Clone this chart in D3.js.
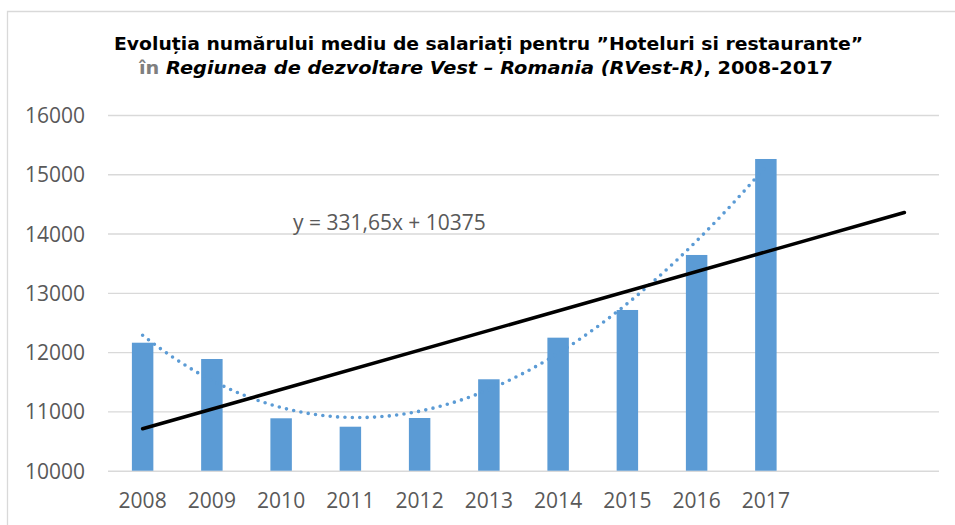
<!DOCTYPE html>
<html lang="ro">
<head>
    <meta charset="UTF-8">
    <title>Evolutia numarului mediu de salariati - Hoteluri si restaurante</title>
    <script src="https://d3js.org/d3.v7.min.js"></script>
    <style>
        body { margin: 0; background: #fff; }
        .axis text { font-family: "Open Sans", sans-serif; font-size: 21px; fill: #595959; }
    </style>
</head>
<body>
    <div id="chart"></div>
    <script>
        // values
        const years = ["2008", "2009", "2010", "2011", "2012", "2013", "2014", "2015", "2016", "2017"];
        const employees = [12159, 11884, 10884, 10742, 10889, 11542, 12244, 12711, 13639, 15258];
        const yTicks = [10000, 11000, 12000, 13000, 14000, 15000, 16000];
        const extraSlots = ["f1", "f2"];      // empty categories used by the trendline forecast
        const trendSlope = 331.65;            // from "y = 331,65x + 10375"
        const trendIntercept = 10375;
        const polyOrder = 3;

        const width = 955, height = 525;
        const margin = { top: 115, right: 16, bottom: 54.3, left: 108 };

        const svg = d3.select("#chart")
            .append("svg")
            .attr("width", width)
            .attr("height", height);

        // chart frame (only left + top edge visible)
        svg.append("path")
            .attr("d", `M7.5,${height} V11.5 H${width}`)
            .attr("fill", "none")
            .attr("stroke", "#d9d9d9")
            .attr("stroke-width", 1.3);

        const x = d3.scaleBand()
            .domain(years.concat(extraSlots))
            .range([margin.left, width - margin.right])
            .paddingInner(0.69)
            .paddingOuter(0.345);

        const y = d3.scaleLinear()
            .domain([10000, 16000])
            .range([height - margin.bottom, margin.top]);

        // center of category i (1-based, like Excel)
        const cx = i => x(x.domain()[i - 1]) + x.bandwidth() / 2;

        // y axis + gridlines
        const yAxis = svg.append("g")
            .attr("class", "axis")
            .attr("transform", `translate(${margin.left},0)`)
            .call(d3.axisLeft(y).tickValues(yTicks).tickFormat(d3.format("d"))
                .tickSize(-(width - margin.right - margin.left)).tickPadding(23));
        yAxis.select(".domain").remove();
        yAxis.selectAll(".tick line").attr("stroke", "#d9d9d9").attr("stroke-width", 1.4);
        yAxis.selectAll(".tick text").attr("dy", "0.36em");

        // x axis labels
        const xAxis = svg.append("g")
            .attr("class", "axis")
            .attr("transform", `translate(0,${y(10000)})`)
            .call(d3.axisBottom(x).tickValues(years).tickSize(0).tickPadding(0));
        xAxis.select(".domain").remove();
        xAxis.selectAll(".tick text").attr("y", 37).attr("dy", 0);

        // bars
        svg.selectAll(".bar")
            .data(employees)
            .join("rect")
            .attr("class", "bar")
            .attr("x", (d, i) => x(years[i]))
            .attr("y", d => y(d))
            .attr("width", x.bandwidth())
            .attr("height", d => y(10000) - y(d))
            .attr("fill", "#5b9bd5");

        // polynomial trendline (least squares, like Excel)
        function polyFit(xs, ys, order) {
            const n = order + 1;
            const A = d3.range(n).map(r => d3.range(n + 1).map(() => 0));
            xs.forEach((xv, k) => {
                for (let r = 0; r < n; r++) {
                    for (let c = 0; c < n; c++) A[r][c] += Math.pow(xv, r + c);
                    A[r][n] += ys[k] * Math.pow(xv, r);
                }
            });
            for (let p = 0; p < n; p++) {
                for (let r = p + 1; r < n; r++) {
                    const f = A[r][p] / A[p][p];
                    for (let c = p; c <= n; c++) A[r][c] -= f * A[p][c];
                }
            }
            const coef = new Array(n).fill(0);
            for (let r = n - 1; r >= 0; r--) {
                let s = A[r][n];
                for (let c = r + 1; c < n; c++) s -= A[r][c] * coef[c];
                coef[r] = s / A[r][r];
            }
            return xv => coef.reduce((acc, cf, k) => acc + cf * Math.pow(xv, k), 0);
        }

        const xIdx = employees.map((d, i) => i + 1);
        const poly = polyFit(xIdx, employees, polyOrder);
        const polyPts = d3.range(1, employees.length + 0.001, 0.05);

        const lineX = d3.scaleLinear().domain([1, 2]).range([cx(1), cx(2)]);

        svg.append("path")
            .datum(polyPts)
            .attr("d", d3.line().x(d => lineX(d)).y(d => y(poly(d))))
            .attr("fill", "none")
            .attr("stroke", "#5b9bd5")
            .attr("stroke-width", 3.6)
            .attr("stroke-linecap", "round")
            .attr("stroke-dasharray", "0 7.4");

        // linear trendline, forecast forward 2 periods
        const trendX = [1, years.length + extraSlots.length];
        svg.append("path")
            .datum(trendX)
            .attr("d", d3.line().x(d => lineX(d)).y(d => y(trendSlope * d + trendIntercept)))
            .attr("fill", "none")
            .attr("stroke", "#000")
            .attr("stroke-width", 3.5)
            .attr("stroke-linecap", "round");

        svg.append("text")
            .attr("x", 293)
            .attr("y", 230)
            .attr("font-family", "Open Sans, sans-serif")
            .attr("font-size", 21)
            .attr("fill", "#595959")
            .text("y = 331,65x + 10375");

        // title
        const title = svg.append("g")
            .attr("font-family", "DejaVu Sans, sans-serif")
            .attr("font-size", 18.5)
            .attr("font-weight", "bold")
            .attr("fill", "#000");

        title.append("text")
            .attr("x", 114)
            .attr("y", 50)
            .attr("textLength", 749)
            .attr("lengthAdjust", "spacingAndGlyphs")
            .text("Evoluția numărului mediu de salariați pentru ”Hoteluri si restaurante”");

        const t2 = title.append("text")
            .attr("x", 139)
            .attr("y", 74)
            .attr("textLength", 694)
            .attr("lengthAdjust", "spacingAndGlyphs");
        t2.append("tspan").attr("fill", "#7f7f7f").text("în ");
        t2.append("tspan").attr("font-style", "italic").text("Regiunea de dezvoltare Vest – Romania (RVest-R)");
        t2.append("tspan").text(", 2008-2017");
    </script>
</body>
</html>
